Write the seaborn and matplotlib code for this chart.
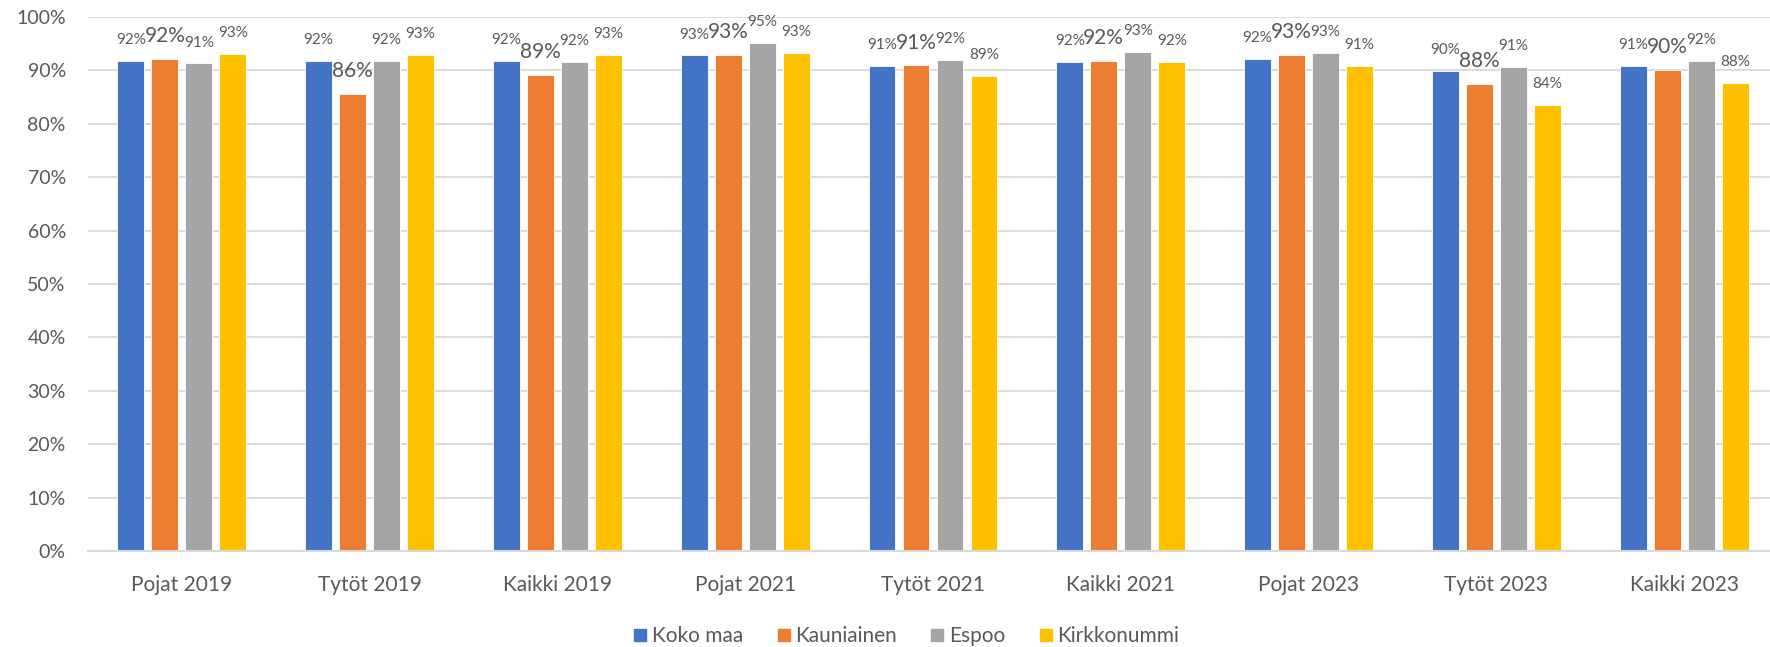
import pandas as pd
import matplotlib.pyplot as plt
import seaborn as sns
from matplotlib.lines import Line2D
from matplotlib.ticker import PercentFormatter

# Data (percent)
categories = ['Pojat 2019', 'Tytöt 2019', 'Kaikki 2019',
              'Pojat 2021', 'Tytöt 2021', 'Kaikki 2021',
              'Pojat 2023', 'Tytöt 2023', 'Kaikki 2023']
series = ['Koko maa', 'Kauniainen', 'Espoo', 'Kirkkonummi']
koko_maa = [91.8, 91.7, 91.7, 92.8, 90.9, 91.6, 92.2, 89.9, 90.8]
kauniainen = [92.2, 85.6, 89.2, 92.9, 91.0, 91.8, 92.9, 87.5, 90.1]
espoo = [91.3, 91.7, 91.6, 95.2, 92.0, 93.4, 93.3, 90.6, 91.8]
kirkkonummi = [93.0, 92.9, 92.9, 93.3, 89.0, 91.6, 90.9, 83.6, 87.6]
colors = ['#4472C4', '#ED7D31', '#A5A5A5', '#FFC000']

TEXT = '#595959'
GRID = '#D9D9D9'

df = pd.DataFrame({'ryhma': categories, 'Koko maa': koko_maa,
                   'Kauniainen': kauniainen, 'Espoo': espoo,
                   'Kirkkonummi': kirkkonummi})
long_df = df.melt(id_vars='ryhma', var_name='alue', value_name='osuus')

sns.set_theme(style='white')
plt.rcParams['font.family'] = ['Lato', 'DejaVu Sans']

fig = plt.figure(figsize=(17.7, 6.47), dpi=100)
ax = fig.add_axes([88 / 1770, 1 - 551 / 647, (1778 - 88) / 1770, (551 - 17) / 647])

sns.barplot(data=long_df, x='ryhma', y='osuus', hue='alue', order=categories,
            hue_order=series, palette=colors, saturation=1, width=0.724, gap=0.21,
            edgecolor='white', linewidth=0.6, legend=False, ax=ax)

# data labels, Kauniainen drawn larger like in the original
for i, cont in enumerate(ax.containers):
    big = series[i] == 'Kauniainen'
    ax.bar_label(cont, labels=[f'{v:.0f}%' for v in cont.datavalues],
                 padding=9 if big else 10, fontsize=15 if big else 11,
                 color=TEXT)

ax.set_ylim(0, 100)
ax.set_xlim(-0.5, len(categories) - 0.5)
ax.set_yticks(range(0, 101, 10))
ax.yaxis.set_major_formatter(PercentFormatter(decimals=0))
ax.yaxis.grid(True, color=GRID, linewidth=1.3)
ax.set_axisbelow(True)
ax.set_xlabel('')
ax.set_ylabel('')
for side in ['left', 'top', 'right']:
    ax.spines[side].set_visible(False)
ax.spines['bottom'].set_color(GRID)
ax.spines['bottom'].set_linewidth(1.5)
ax.tick_params(axis='y', length=0, pad=16, labelsize=14, labelcolor=TEXT)
ax.tick_params(axis='x', length=0, pad=17, labelsize=15, labelcolor=TEXT)

handles = [Line2D([], [], marker='s', linestyle='', markersize=9,
                  markerfacecolor=c, markeredgecolor=c) for c in colors]
fig.legend(handles, series, loc='center', bbox_to_anchor=(905 / 1770, 1 - 636 / 647),
           ncol=4, frameon=False, fontsize=15, labelcolor=TEXT,
           handletextpad=0.1, columnspacing=1.5, handlelength=0.9)

plt.savefig('out.png', dpi=100, facecolor='white')
